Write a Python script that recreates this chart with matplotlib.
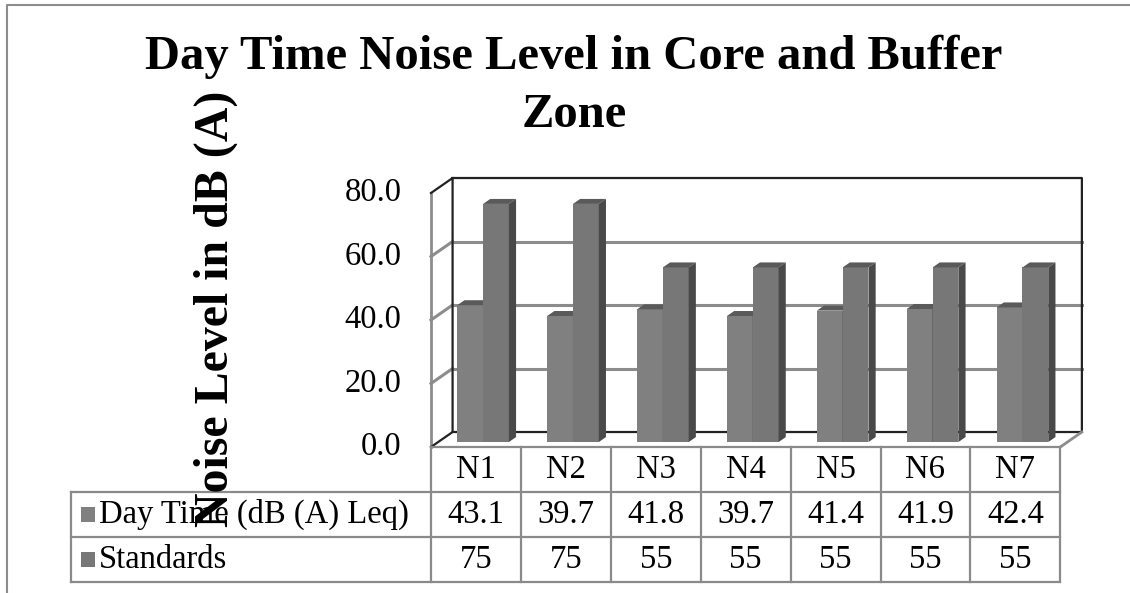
import matplotlib
matplotlib.use('Agg')
import matplotlib.pyplot as plt
from matplotlib.patches import Polygon
from matplotlib.lines import Line2D
import numpy as np

plt.rcParams['font.family'] = ['Liberation Serif', 'DejaVu Serif']

# data
sites = ['N1', 'N2', 'N3', 'N4', 'N5', 'N6', 'N7']
day_time = [43.1, 39.7, 41.8, 39.7, 41.4, 41.9, 42.4]
standards = [75, 75, 55, 55, 55, 55, 55]
series_names = ['Day Time (dB (A) Leq)', 'Standards']
yticks = [0, 20, 40, 60, 80]

W, H = 1130, 593
fig = plt.figure(figsize=(W / 100, H / 100), dpi=100)
ax = fig.add_axes([0, 0, 1, 1])
ax.axis('off')

# pixel scale of the plot (front plane): 1 category / 1 unit
PXC = 89.9
PXU = 3.175
x0px, y0px = 431, 447
ax.set_xlim(-0.5 - x0px / PXC, -0.5 + (W - x0px) / PXC)
ax.set_ylim(-(H - y0px) / PXU, y0px / PXU)

# 3d depth of the wall
DX, DY = 0.24, 4.72
n = len(sites)
left, right = -0.5, n - 0.5
ymax = 80
FS = 23.5

grid_c = '#8c8c8c'
edge_c = '#222222'

# back wall gridlines
for v in yticks[1:-1]:
    ax.plot([left + DX, right + DX], [v + DY, v + DY], color=grid_c, lw=2.2, zorder=1)
# left wall gridlines
for v in yticks[1:-1]:
    ax.plot([left, left + DX], [v, v + DY], color=grid_c, lw=2.2, zorder=1)
ax.plot([left, left], [0, ymax], color=grid_c, lw=2, zorder=1)
# dark frame
ax.plot([left, left + DX, right + DX, right + DX, left + DX, left + DX],
        [ymax, ymax + DY, ymax + DY, DY, DY, ymax + DY], color=edge_c, lw=1.6, zorder=1)
ax.plot([left, left + DX], [0, DY], color=edge_c, lw=1.6, zorder=1)
ax.plot([right, right + DX], [0, DY], color=grid_c, lw=2, zorder=1)

# bars
d1 = 0.33
bdx, bdy = DX / 3, DY / 3
w = 0.287
front_cols = ['#808080', '#777777']
top_c = '#5a5a5a'
side_c = '#494949'
xs = np.arange(n)
for i in range(n):
    for k, (vals, off) in enumerate([(day_time, -w), (standards, 0.0)]):
        v = vals[i]
        xl = xs[i] + off + d1 * DX
        yb = d1 * DY
        z = 3 + 2 * i + k * 0.5
        ax.bar(xl, v, width=w, bottom=yb, align='edge', color=front_cols[k],
               edgecolor='none', zorder=z)
        top = yb + v
        ax.add_patch(Polygon([(xl, top), (xl + w, top), (xl + w + bdx, top + bdy), (xl + bdx, top + bdy)],
                             closed=True, facecolor=top_c, edgecolor='none', zorder=z))
        ax.add_patch(Polygon([(xl + w, yb), (xl + w, top), (xl + w + bdx, top + bdy), (xl + w + bdx, yb + bdy)],
                             closed=True, facecolor=side_c, edgecolor='none', zorder=z))

# y tick labels
for v in yticks:
    ax.text(left - 0.33, v, f'{v:.1f}', ha='right', va='center', fontsize=FS)

# data table
ROW_H = 14.17
tab_c = '#8a8a8a'
lab_left = left - 360 / PXC
ax.plot([left, right], [0, 0], color=tab_c, lw=1.6, zorder=2)
for r in range(1, 4):
    ax.plot([lab_left, right], [-r * ROW_H, -r * ROW_H], color=tab_c, lw=1.6, zorder=2)
for c in range(n + 1):
    ax.plot([left + c, left + c], [0, -3 * ROW_H], color=tab_c, lw=1.6, zorder=2)
ax.plot([lab_left, lab_left], [-ROW_H, -3 * ROW_H], color=tab_c, lw=1.6, zorder=2)

for i, s in enumerate(sites):
    ax.text(i, -0.5 * ROW_H, s, ha='center', va='center', fontsize=FS)
    ax.text(i, -1.5 * ROW_H, f'{day_time[i]:.1f}', ha='center', va='center', fontsize=FS)
    ax.text(i, -2.5 * ROW_H, f'{standards[i]}', ha='center', va='center', fontsize=FS)

for r, name in enumerate(series_names):
    yc = -(r + 1.5) * ROW_H
    ax.add_patch(Polygon([(lab_left + 0.11, yc - 2.3), (lab_left + 0.27, yc - 2.3),
                          (lab_left + 0.27, yc + 2.3), (lab_left + 0.11, yc + 2.3)],
                         closed=True, facecolor=front_cols[r], edgecolor='none'))
    ax.text(lab_left + 0.31, yc, name, ha='left', va='center', fontsize=FS)

# title and axis title
fig.text(574 / W, 1 - 86 / H, 'Day Time Noise Level in Core and Buffer\nZone', ha='center', va='center',
         fontsize=35, fontweight='bold', linespacing=1.4)
fig.text(216 / W, 1 - 309 / H, 'Noise Level in dB (A)', ha='center', va='center', rotation=90,
         fontsize=34.5, fontweight='bold', zorder=10)

# outer border
fig.add_artist(Line2D([7 / W, 7 / W, 1], [0, 1 - 5 / H, 1 - 5 / H], color='#8c8c8c', lw=1.5))

fig.savefig('out.png', dpi=100)
